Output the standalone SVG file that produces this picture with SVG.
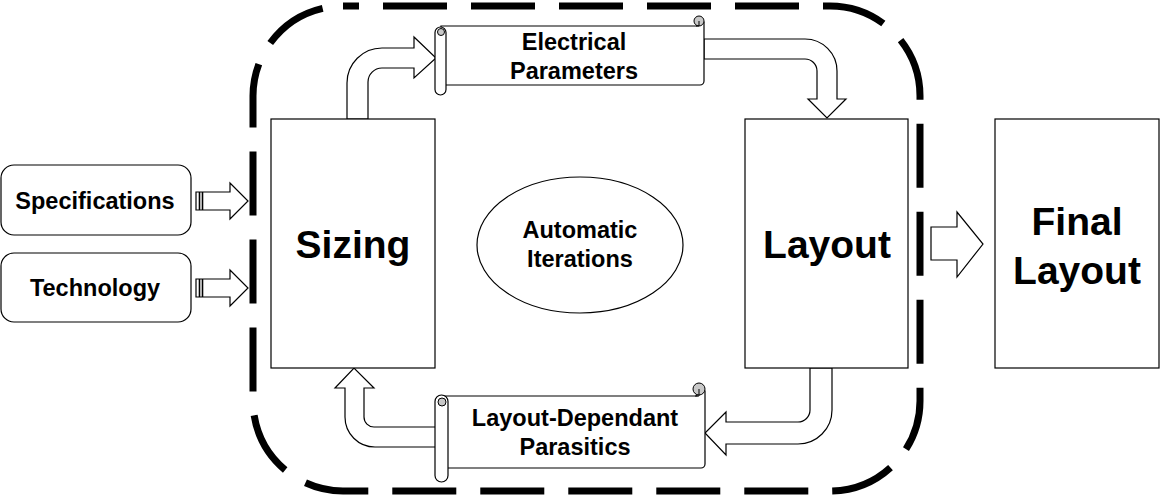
<svg xmlns="http://www.w3.org/2000/svg" width="1166" height="497" viewBox="0 0 1166 497">
<style>
.box{fill:#fff;stroke:#000;stroke-width:1.2}
.arr{fill:#fff;stroke:#000;stroke-width:1.2;stroke-linejoin:miter}
.curl{fill:#c8c8c8;stroke:#000;stroke-width:1}
.t{font-family:"Liberation Sans",Arial,sans-serif;font-weight:bold;fill:#000;text-anchor:middle}
.s{font-size:23.5px}
.b{font-size:39px}
.frame{fill:none;stroke:#000;stroke-width:7;stroke-dasharray:64 24;stroke-dashoffset:48}
</style>
<rect width="1166" height="497" fill="#fff"/>
<g id="boundary">
<rect class="frame" x="253" y="6" width="667" height="485" rx="90" ry="90"/>
</g>
<g id="connectors">
<path class="arr" d="M347,119 V83 A35,35 0 0 1 382,48 H414 V37 L436,58 L414,78 V68 H382 A14,14 0 0 0 368,82 V119 Z"/>
<path class="arr" d="M704,39 H805 A32,32 0 0 1 837,71 V99 H846 L827,118 L808,99 H817 V71 A12,12 0 0 0 805,59 H704 Z"/>
<path class="arr" d="M810,368 V410 A12,12 0 0 1 798,422 H726 V412 L705,433 L726,455 V444 H798 A34,34 0 0 0 832,410 V368 Z"/>
<path class="arr" d="M436,427 H374 A10,10 0 0 1 364,417 V388 H374 L354,368 L335,388 H345 V417 A30,30 0 0 0 375,447 H436 Z"/>
<path class="arr" d="M196,192 H230 V183 L248,201 L230,219 V210 H196 Z"/>
<path d="M199.5,192 V210 M202.5,192 V210" stroke="#000" stroke-width="1.6" fill="none"/>
<path class="arr" d="M196,279 H230 V270 L248,288 L230,306 V297 H196 Z"/>
<path d="M199.5,279 V297 M202.5,279 V297" stroke="#000" stroke-width="1.6" fill="none"/>
<path class="arr" d="M931,227 H957 V212 L983,244 L957,277 V260 H931 Z"/>
</g>
<g id="specifications">
<rect class="box" x="1" y="165" width="190" height="70" rx="13"/>
<text class="t s" x="95" y="209">Specifications</text>
</g>
<g id="technology">
<rect class="box" x="1" y="253" width="190" height="69" rx="13"/>
<text class="t s" x="95" y="296">Technology</text>
</g>
<g id="sizing">
<rect class="box" x="271" y="119" width="164" height="249"/>
<text class="t b" x="353" y="258">Sizing</text>
</g>
<g id="layout">
<rect class="box" x="745" y="119" width="163" height="249"/>
<text class="t b" x="827" y="258">Layout</text>
</g>
<g id="final-layout">
<rect class="box" x="995" y="119" width="164" height="249"/>
<text class="t b" x="1077" y="235">Final</text>
<text class="t b" x="1077" y="284">Layout</text>
</g>
<g id="automatic-iterations">
<ellipse class="box" cx="580" cy="245" rx="103" ry="68"/>
<text class="t s" x="580" y="238">Automatic</text>
<text class="t s" x="580" y="267">Iterations</text>
</g>
<g id="electrical-parameters">
<path class="box" d="M441,26 H697 A5,5 0 0 1 704,22 V81 A4,4 0 0 1 700,85 H441 Z"/>
<circle class="curl" cx="699" cy="21" r="5"/>
<path d="M699,21 V26 M696,26 H699" stroke="#000" stroke-width="1" fill="none"/>
<rect class="box" x="435" y="27" width="11" height="68" rx="5.5"/>
<circle class="curl" cx="441" cy="32" r="3.5"/>
<text class="t s" x="574" y="50">Electrical</text>
<text class="t s" x="574" y="79">Parameters</text>
</g>
<g id="layout-dependant-parasitics">
<path class="box" d="M442,396 H697 A5,5 0 0 1 705,391 V464 A4,4 0 0 1 701,468 H442 Z"/>
<circle class="curl" cx="699" cy="389" r="6"/>
<path d="M699,389 V396 M695,396 H699" stroke="#000" stroke-width="1" fill="none"/>
<rect class="box" x="435" y="395" width="13" height="87" rx="6.5"/>
<circle class="curl" cx="442" cy="402" r="4"/>
<text class="t s" x="575" y="426">Layout-Dependant</text>
<text class="t s" x="575" y="455">Parasitics</text>
</g>
</svg>
